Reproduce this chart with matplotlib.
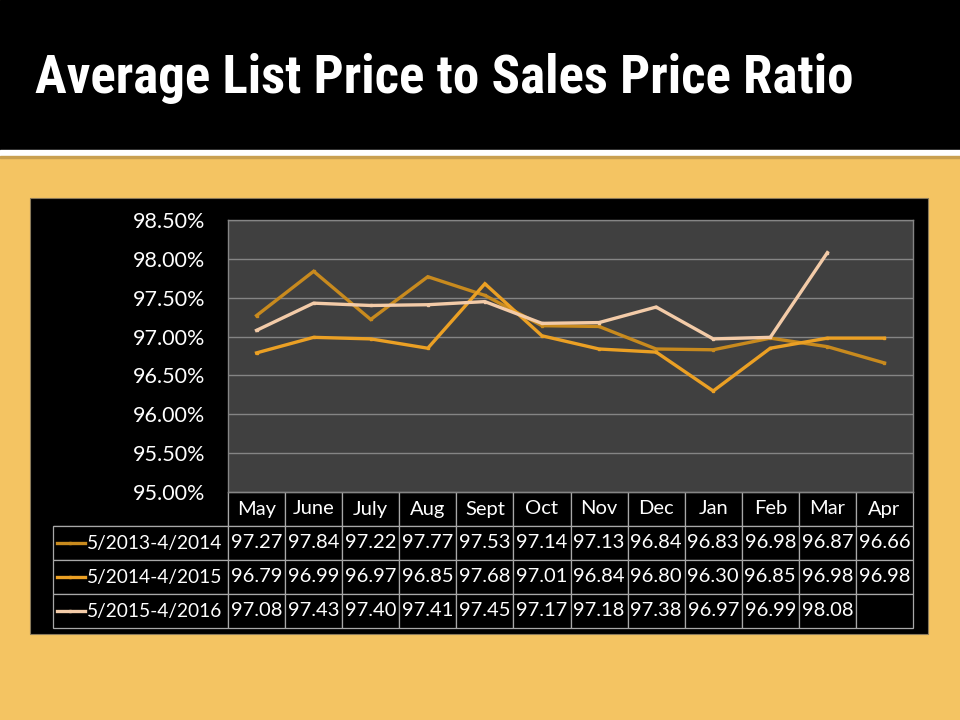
import matplotlib
matplotlib.use("Agg")
import matplotlib.pyplot as plt
from matplotlib.lines import Line2D
from matplotlib import font_manager
import numpy as np

months = ["May", "June", "July", "Aug", "Sept", "Oct", "Nov", "Dec", "Jan", "Feb", "Mar", "Apr"]
series_names = ["5/2013-4/2014", "5/2014-4/2015", "5/2015-4/2016"]
s2013 = [97.27, 97.84, 97.22, 97.77, 97.53, 97.14, 97.13, 96.84, 96.83, 96.98, 96.87, 96.66]
s2014 = [96.79, 96.99, 96.97, 96.85, 97.68, 97.01, 96.84, 96.80, 96.30, 96.85, 96.98, 96.98]
s2015 = [97.08, 97.43, 97.40, 97.41, 97.45, 97.17, 97.18, 97.38, 96.97, 96.99, 98.08, None]
yticks = [95.0, 95.5, 96.0, 96.5, 97.0, 97.5, 98.0, 98.5]

colors = ["#C88A1E", "#EBA024", "#F3CBA8"]
FONT = ["Lato", "DejaVu Sans"]
W, H = 960, 720

# pick a condensed bold font for the title, if any is installed
title_font = None
cands = []
for f in font_manager.fontManager.ttflist:
    nm = (f.name + " " + str(f.fname)).lower()
    if ("condensed" in nm or "narrow" in nm or "compressed" in nm) and \
            (f.weight in ("bold", "heavy", "black", "extra bold") or
             (isinstance(f.weight, int) and f.weight >= 700)):
        cands.append(f)
pref = ["roboto condensed", "liberation sans narrow", "open sans condensed", "dejavu sans condensed"]
for p in pref:
    for f in cands:
        if p in (f.name + " " + str(f.fname)).lower().replace("-", " ").replace("sanscondensed", "sans condensed"):
            title_font = f
            break
    if title_font:
        break
if title_font is None and cands:
    title_font = cands[0]

fig = plt.figure(figsize=(9.6, 7.2), dpi=100)
fig.patch.set_facecolor("#F4C462")

def fx(px):
    return px / W

def fy(py):
    return 1 - py / H

bg = fig.add_axes([0, 0, 1, 1], zorder=0)
bg.set_xlim(0, W)
bg.set_ylim(H, 0)
bg.axis("off")
bg.add_patch(plt.Rectangle((0, 0), W, 150, color="black"))
bg.add_patch(plt.Rectangle((0, 150), W, 6, color="white"))
bg.add_patch(plt.Rectangle((0, 156), W, 2, color="#C9A050"))
bg.add_patch(plt.Rectangle((30, 198), 898, 436, facecolor="black", edgecolor="#8A7A5A", lw=0.8))

if title_font is not None:
    fp = font_manager.FontProperties(fname=title_font.fname, size=40)
    title = bg.text(35, 79, "Average List Price to Sales Price Ratio", color="white",
                    va="center", ha="left", fontproperties=fp)
else:
    title = bg.text(35, 79, "Average List Price to Sales Price Ratio", color="white",
                    fontsize=40, fontweight="bold", va="center", ha="left",
                    family="DejaVu Sans", fontstretch="condensed")
fig.canvas.draw()
bb = title.get_window_extent()
title.set_fontsize(40 * 817 / bb.width)

L, R, T, B = 228, 913, 220, 492
ax = fig.add_axes([fx(L), fy(B), fx(R - L), (B - T) / H], zorder=3)
ax.set_facecolor("#404040")
x = np.arange(len(months))
for vals, c in zip([s2013, s2014, s2015], colors):
    v = np.array([np.nan if a is None else a for a in vals], dtype=float)
    ax.plot(x, v, color=c, lw=2.4, marker="s", ms=2, mfc=c, mec=c, solid_joinstyle="miter")
ax.set_xlim(-0.5, len(months) - 0.5)
ax.set_ylim(95.0, 98.5)
ax.set_yticks(yticks)
ax.set_yticklabels([f"{t:.2f}%" for t in yticks], family=FONT, fontsize=15.5, color="white")
ax.tick_params(axis="y", length=0, pad=16.5)
ax.set_xticks([])
ax.grid(axis="y", color="#858585", lw=1)
ax.set_axisbelow(True)
for s in ax.spines.values():
    s.set_color("#858585")
    s.set_linewidth(1)

TL, TR, TT, TB = 53, 913, 492, 628
tax = fig.add_axes([fx(TL), fy(TB), fx(TR - TL), (TB - TT) / H], zorder=2)
tax.axis("off")
tax.set_xlim(0, 1)
tax.set_ylim(0, 1)
first_w = (L - TL) / (TR - TL)
col_w = (1 - first_w) / len(months)
cell_text = [[""] + months]
for vals in [s2013, s2014, s2015]:
    cell_text.append([""] + ["" if a is None else f"{a:.2f}" for a in vals])
tbl = tax.table(cellText=cell_text, colWidths=[first_w] + [col_w] * len(months),
                bbox=[0, 0, 1, 1], cellLoc="center")
tbl.auto_set_font_size(False)
for (r, c), cell in tbl.get_celld().items():
    cell.set_facecolor("black")
    cell.set_edgecolor("#A8A8A8")
    cell.set_linewidth(0.9)
    cell.get_text().set_color("white")
    cell.get_text().set_fontsize(14.5)
    cell.get_text().set_fontfamily(FONT)
    cell.PAD = 0.02
    if r == 0 and c == 0:
        cell.visible_edges = "BR"
        cell.set_facecolor("none")

rh = 1 / 4
tw = TR - TL
for i, (name, c) in enumerate(zip(series_names, colors)):
    yc = 1 - rh * (i + 1.5)
    tax.add_line(Line2D([4 / tw, 32 / tw], [yc, yc], color=c, lw=2.4))
    tax.plot([17 / tw], [yc], marker="s", ms=2, color=c)
    tax.text(34 / tw, yc, name, color="white", fontsize=13.8, family=FONT,
             va="center", ha="left")

fig.savefig("out.png", dpi=100, facecolor=fig.get_facecolor())
